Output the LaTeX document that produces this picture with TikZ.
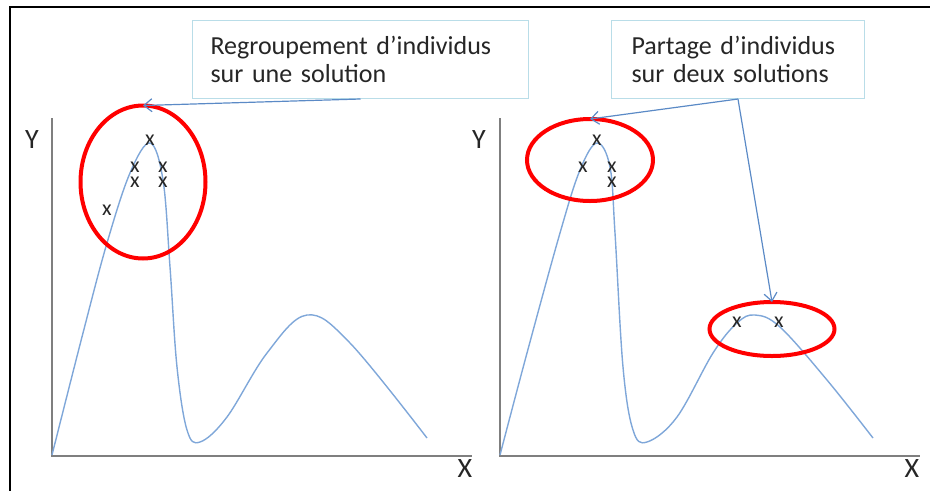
\documentclass[tikz,border=0pt]{standalone}
\usepackage{fontspec}
\setmainfont{Carlito}
\newfontfamily\boxfamily[WordSpace=0.6]{Carlito}
\usetikzlibrary{shapes.geometric,arrows.meta}
\definecolor{curveblue}{HTML}{7FA7D9}
\definecolor{arrowblue}{HTML}{5B8AC6}
\definecolor{boxline}{HTML}{B9DDE8}
\definecolor{axisgray}{HTML}{7F7F7F}
\newcommand{\calloutfont}{\boxfamily\fontsize{26}{28.5}\selectfont}
\tikzset{
  callout/.style={draw=boxline, line width=1pt, fill=white, align=left, inner sep=0pt,
    font=\calloutfont, text=black!85, anchor=north west},
  ring/.style={ellipse, draw=red, line width=4pt, inner sep=0pt, outer sep=0pt},
  pointer/.style={draw=arrowblue, line width=1.2pt, -{Straight Barb[length=8pt,width=13pt]}},
  axis/.style={draw=axisgray, line width=2.2pt},
  curve/.style={draw=curveblue, line width=1.4pt},
  xmk/.style={font=\fontsize{22}{22}\selectfont, inner sep=0pt, text=black!85},
  axlabel/.style={font=\fontsize{28}{28}\selectfont, inner sep=0pt, text=black!85},
}
\begin{document}
\begin{tikzpicture}[x=1pt,y=-1pt]
\useasboundingbox (0,0) rectangle (930,491);
% outer frame
\draw[line width=2pt] (930,7) -- (9.5,7) -- (9.5,491);

% callout boxes
\node[callout, minimum width=336pt, minimum height=78pt, text width=330pt] (box1) at (192,20)
  {\hspace*{15pt}Regroupement d’individus\\\hspace*{15pt}sur une solution};
\node[callout, minimum width=253pt, minimum height=78pt, text width=245pt] (box2) at (611,20)
  {\hspace*{16pt}Partage d’individus\\\hspace*{16pt}sur deux solutions};

% left plot axes
\coordinate (o1) at (52,456);
\coordinate (yt1) at (52,118);
\coordinate (xe1) at (472,456);
\draw[axis] (yt1) -- (o1) -- (xe1);
\node[axlabel] (ylab1) at (32,140) {Y};
\node[axlabel] (xlab1) at (465,469) {X};

% right plot axes
\coordinate (o2) at (500,456);
\coordinate (yt2) at (500,118);
\coordinate (xe2) at (920,456);
\draw[axis] (yt2) -- (o2) -- (xe2);
\node[axlabel] (ylab2) at (479,140) {Y};
\node[axlabel] (xlab2) at (912,469) {X};

% curves
\draw[curve] plot[smooth, tension=0.6] coordinates {
  (52,455) (83,333) (107,243) (130,173) (150,143) (163,180) (170,267) (177,367)
  (187,430) (200,442) (227,417) (267,353) (307,315) (350,343) (427,438)};
\draw[curve] plot[smooth, tension=0.6] coordinates {
  (500,455) (527,353) (560,233) (580,170) (597,143) (610,167) (615,233) (623,367)
  (633,430) (647,442) (677,417) (713,353) (737,323) (755,315) (780,327) (827,380) (873,438)};

% x marks left
\node[xmk] (a1) at (150,140) {x};
\node[xmk] (a2) at (135,167) {x};
\node[xmk] (a3) at (135,182) {x};
\node[xmk] (a4) at (163,167) {x};
\node[xmk] (a5) at (163,182) {x};
\node[xmk] (a6) at (107,210) {x};

% x marks right
\node[xmk] (b1) at (597,140) {x};
\node[xmk] (b2) at (583,167) {x};
\node[xmk] (b3) at (612,167) {x};
\node[xmk] (b4) at (612,182) {x};
\node[xmk] (b5) at (737,322) {x};
\node[xmk] (b6) at (779,322) {x};

% red ellipses
\node[ring, minimum width=125pt, minimum height=153pt] (e1) at (143,182) {};
\node[ring, minimum width=126pt, minimum height=82pt] (e2) at (590,160) {};
\node[ring, minimum width=125pt, minimum height=54pt] (e3) at (772,329) {};

% pointers
\draw[pointer] (box1.south) -- (e1.north);
\draw[pointer] (box2.south) -- (e2.north);
\draw[pointer] (box2.south) -- (e3.north);
\end{tikzpicture}
\end{document}
